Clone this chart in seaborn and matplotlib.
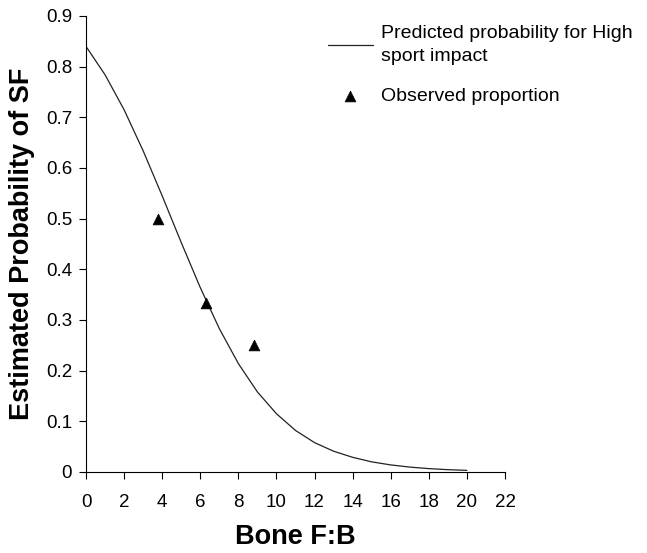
import matplotlib
matplotlib.use("Agg")
import matplotlib.pyplot as plt
import seaborn as sns
import pandas as pd

# Predicted curve
curve_x = [0, 1, 2, 3, 4, 5, 6, 7, 8, 9, 10, 11, 12, 13, 14, 15, 16, 17, 18, 19, 20]
curve_y = [0.840, 0.784, 0.715, 0.634, 0.545, 0.453, 0.364, 0.283, 0.214, 0.158,
           0.115, 0.082, 0.058, 0.041, 0.029, 0.020, 0.014, 0.0097, 0.0067, 0.0046, 0.0032]

# Observed proportions
obs_x = [3.8, 6.3, 8.8]
obs_y = [0.5, 0.333, 0.25]

x_ticks = list(range(0, 23, 2))
y_ticks = [0, 0.1, 0.2, 0.3, 0.4, 0.5, 0.6, 0.7, 0.8, 0.9]
y_tick_labels = ["0", "0.1", "0.2", "0.3", "0.4", "0.5", "0.6", "0.7", "0.8", "0.9"]

sns.set_style("ticks")
plt.rcParams["font.family"] = ["Liberation Sans", "DejaVu Sans"]
plt.rcParams["text.color"] = "black"
plt.rcParams["axes.labelcolor"] = "black"
plt.rcParams["xtick.color"] = "black"
plt.rcParams["ytick.color"] = "black"

fig = plt.figure(figsize=(6.47, 5.53), dpi=100)
ax = fig.add_axes([86/647, 1 - 472/553, (505 - 86)/647, (472 - 16)/553])

df_curve = pd.DataFrame({"x": curve_x, "y": curve_y})
df_obs = pd.DataFrame({"x": obs_x, "y": obs_y})

sns.lineplot(data=df_curve, x="x", y="y", ax=ax, color="#222222", linewidth=0.9,
             label="Predicted probability for High\nsport impact")
sns.scatterplot(data=df_obs, x="x", y="y", ax=ax, marker="^", color="black", s=60,
                edgecolor="black", linewidth=0.5, label="Observed proportion", zorder=3)

ax.set_xlim(0, 22)
ax.set_ylim(0, 0.9)
ax.set_xticks(x_ticks)
ax.set_yticks(y_ticks)
ax.set_yticklabels(y_tick_labels)
ax.tick_params(axis="both", labelsize=13.5, direction="out", length=5, width=0.8,
               colors="black", labelcolor="black")
ax.tick_params(axis="x", pad=10.5)
ax.tick_params(axis="y", pad=5)
for s in ["top", "right"]:
    ax.spines[s].set_visible(False)
for s in ["left", "bottom"]:
    ax.spines[s].set_color("black")
    ax.spines[s].set_linewidth(0.8)

ax.set_xlabel("Bone F:B", fontsize=19.5, fontweight="bold", labelpad=10, color="black")
ax.set_ylabel("Estimated Probability of SF", fontsize=19.5, fontweight="bold", labelpad=8,
              color="black")

leg = ax.legend(loc="upper left", bbox_to_anchor=(328/647, 1 - 25/553),
                bbox_transform=fig.transFigure, frameon=False, fontsize=14,
                handlelength=2.3, handletextpad=0.45, labelspacing=1.15,
                borderpad=0, borderaxespad=0)
for t in leg.get_texts():
    t.set_linespacing(1.45)
    t.set_color("black")

fig.savefig("out.png", dpi=100, facecolor="white")
